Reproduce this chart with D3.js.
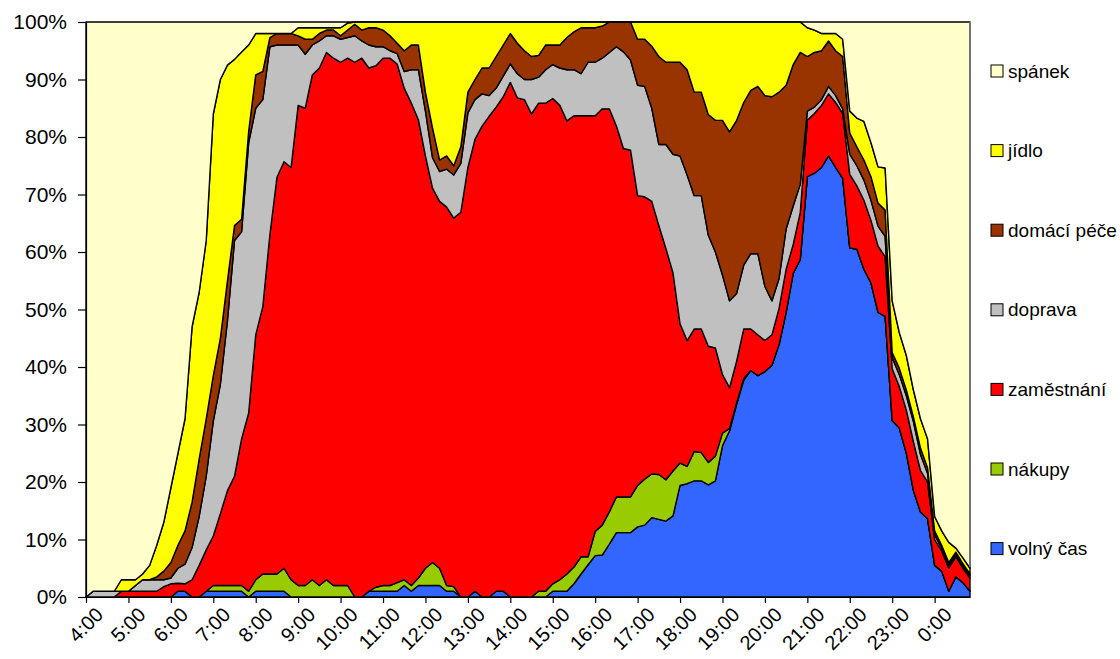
<!DOCTYPE html>
<html>
<head>
<meta charset="utf-8">
<script src="https://cdn.jsdelivr.net/npm/d3@7"></script>
<style>
  body { margin: 0; background: #fff; }
  svg { display: block; font-family: 'Liberation Sans', Arial, sans-serif; }
</style>
</head>
<body>
<div id="chart"></div>
<script>
// 10-minute categories, 4:00 to 0:50
const times = [
  '4:00', '4:10', '4:20', '4:30', '4:40', '4:50', '5:00', '5:10', '5:20', '5:30', '5:40', '5:50',
  '6:00', '6:10', '6:20', '6:30', '6:40', '6:50', '7:00', '7:10', '7:20', '7:30', '7:40', '7:50',
  '8:00', '8:10', '8:20', '8:30', '8:40', '8:50', '9:00', '9:10', '9:20', '9:30', '9:40', '9:50',
  '10:00', '10:10', '10:20', '10:30', '10:40', '10:50', '11:00', '11:10', '11:20', '11:30', '11:40', '11:50',
  '12:00', '12:10', '12:20', '12:30', '12:40', '12:50', '13:00', '13:10', '13:20', '13:30', '13:40', '13:50',
  '14:00', '14:10', '14:20', '14:30', '14:40', '14:50', '15:00', '15:10', '15:20', '15:30', '15:40', '15:50',
  '16:00', '16:10', '16:20', '16:30', '16:40', '16:50', '17:00', '17:10', '17:20', '17:30', '17:40', '17:50',
  '18:00', '18:10', '18:20', '18:30', '18:40', '18:50', '19:00', '19:10', '19:20', '19:30', '19:40', '19:50',
  '20:00', '20:10', '20:20', '20:30', '20:40', '20:50', '21:00', '21:10', '21:20', '21:30', '21:40', '21:50',
  '22:00', '22:10', '22:20', '22:30', '22:40', '22:50', '23:00', '23:10', '23:20', '23:30', '23:40', '23:50',
  '0:00', '0:10', '0:20', '0:30', '0:40', '0:50'
]

const hourLabels = ['4:00', '5:00', '6:00', '7:00', '8:00', '9:00', '10:00', '11:00', '12:00', '13:00', '14:00',
  '15:00', '16:00', '17:00', '18:00', '19:00', '20:00', '21:00', '22:00', '23:00', '0:00']

const yTicks = [0, 0.1, 0.2, 0.3, 0.4, 0.5, 0.6, 0.7, 0.8, 0.9, 1]

// stacking order, bottom to top
const seriesNames = ['volný čas', 'nákupy', 'zaměstnání', 'doprava', 'domácí péče', 'jídlo', 'spánek']

const volnyCas = [
  0, 0, 0, 0, 0, 0, 0, 0, 0, 0,
  0, 0, 0, 1, 1, 0, 0, 1, 1, 1,
  1, 1, 1, 0, 1, 1, 1, 1, 1, 0,
  0, 0, 0, 0, 0, 0, 0, 0, 0, 0,
  1, 1, 1, 1, 1, 2, 1, 2, 2, 2,
  2, 1, 1, 0, 0, 1, 0, 0, 1, 1,
  0, 0, 0, 0, 0, 0, 1, 1, 1, 2.3,
  4, 5.6, 7.2, 7.3, 9.2, 11.2, 11.2, 11.2, 12.2, 12.5,
  13.8, 13.5, 13.2, 14.1, 19.4, 19.7, 20.2, 20.2, 19.5, 20.2,
  26.3, 28.9, 33.5, 37.7, 39.4, 38.5, 39.2, 40.3, 43.9, 49.5,
  56.3, 58.7, 73.1, 73.7, 74.7, 76.7, 74.7, 72.8, 60.7, 60.5,
  57, 54.6, 49.5, 48.8, 30.7, 29.4, 25, 18.5, 14.8, 13.6,
  5.5, 4.5, 1, 3.5, 2.5, 1
]

const nakupy = [
  0, 0, 0, 0, 0, 0, 0, 0, 0, 0,
  0, 0, 0, 0, 0, 0, 0, 0, 1, 1,
  1, 1, 1, 1, 2, 3, 3, 3, 4, 3,
  2, 2, 3, 2, 3, 2, 2, 2, 0, 0,
  0, 0.7, 1, 1, 1.5, 1, 1, 1.3, 3, 4,
  3, 1, 0.8, 0, 0, 0, 0, 0, 0, 0,
  0, 0, 0, 0, 1, 1, 1.3, 2, 3, 2.9,
  3, 1.4, 4.2, 5.2, 5.6, 6.2, 6.2, 6.2, 7.2, 8,
  7.6, 7.8, 7.2, 7.8, 3.9, 3, 5.1, 4.9, 3.9, 4.3,
  2.2, 0.4, 0.3, 0.3, 0, 0, 0, 0, 0, 0,
  0, 0, 0, 0, 0, 0, 0, 0, 0, 0,
  0, 0, 0, 0, 0, 0, 0, 0, 0, 0,
  0, 0, 0, 0, 0, 0
]

const zamestnani = [
  0, 0, 0, 0, 0, 1, 1, 1, 1, 1,
  1, 1.8, 2.3, 1.4, 1.3, 3, 5.5, 7.2, 8.6, 12.5,
  16.5, 19, 25.5, 31, 42.6, 46.5, 59, 69, 70.7, 71.7,
  83.5, 83, 87.8, 90, 91.7, 91.7, 91, 91.7, 93, 93.7,
  91, 90.7, 91.7, 91.7, 90.2, 85.5, 83.9, 79.7, 71.7, 65.1,
  63.8, 65.8, 64.1, 66.9, 74.7, 78.6, 81.9, 83.6, 84.2, 86,
  89.5, 86.8, 86.5, 84, 84.9, 84.9, 84.4, 82.5, 78.8, 78.5,
  76.7, 76.7, 72.3, 72.4, 70.1, 64.5, 60.6, 60.3, 50.4, 49.1,
  47.4, 43.3, 40.2, 34.5, 24.2, 21.9, 21.3, 21.5, 20.2, 18.8,
  10.2, 7.1, 7.2, 8.6, 7.2, 7.1, 5.4, 5.3, 6.3, 7.5,
  5, 8.2, 9.8, 10.4, 10.8, 10.8, 11.3, 11.3, 12.8, 11,
  12, 10.9, 11.5, 10.4, 9, 7.2, 7.5, 8.5, 7.2, 6.4,
  4.5, 3.5, 4, 3.5, 2.5, 2.3
]

const doprava = [
  0, 1, 1, 1, 1, 0, 0, 1, 2, 2,
  2, 1.2, 1, 2.6, 3.4, 5.6, 8.5, 12.8, 20, 22.5,
  29.5, 41, 36, 47, 39.4, 36, 32.7, 23, 20.3, 21.3,
  10.5, 9.4, 5.2, 4.7, 2.9, 3.9, 4, 3.6, 4.6, 3,
  4, 3.3, 2, 1.3, 1.8, 2.9, 5.8, 8.7, 7.8, 5.3,
  5.2, 6.6, 7.5, 8.5, 9.5, 6.9, 5.6, 3.6, 3.3, 3.6,
  3.2, 4.2, 3.5, 6, 4.5, 5.8, 5.9, 6.5, 8.9, 8,
  7.3, 9.3, 9.3, 8.8, 9.8, 13.8, 16.8, 15.7, 19.2, 19.2,
  16.2, 14.1, 18.1, 20.6, 29.2, 28.8, 23.2, 23.2, 19.3, 16.7,
  17.3, 15.1, 11.8, 11.1, 13.1, 14.1, 9.4, 5.9, 5.2, 7,
  6.7, 4.9, 1.6, 1.1, 1, 1.3, 1.2, 0.8, 3.5, 3.5,
  3.5, 3.5, 3.5, 3.5, 1.9, 2.1, 2.5, 3.5, 2.8, 1.5,
  0.8, 0.5, 0.5, 0.4, 0.4, 0.4
]

const domaciPece = [
  0, 0, 0, 0, 0, 0, 0, 0, 0, 0,
  0.5, 1.5, 2.7, 4, 5.8, 7.9, 10, 10, 7.9, 8,
  7, 2.6, 2.2, 2, 5.8, 4.9, 1.6, 2, 2, 2,
  1.6, 2.6, 1, 1.3, 1, 1, 0.6, 1.3, 2, 1.9,
  3, 3.3, 2.9, 2.6, 1.8, 3.6, 4.3, 4.3, 3.3, 5.2,
  2, 2.3, 1.6, 2.9, 3.6, 3.5, 4.5, 4.8, 5.5, 5.4,
  5.3, 5.3, 5, 4, 3.8, 4.3, 3.4, 4, 5.6, 6.6,
  8, 6, 6, 5.6, 5.3, 4.3, 5.2, 6.6, 8, 8.2,
  10.8, 15.3, 14.3, 16, 16.3, 18.3, 18, 18, 21, 22.9,
  26.9, 29.4, 30.1, 28.3, 28.4, 29.1, 33.2, 35.5, 32.4, 25,
  24.6, 22.9, 9.5, 9.5, 8.5, 7.9, 7.8, 9.1, 3.7, 3.3,
  3.5, 4.1, 4, 4.6, 0.9, 1.1, 1, 0.8, 1.1, 1,
  0.7, 0.5, 0.5, 0.4, 0.4, 0.3
]

const jidlo = [
  0, 0, 0, 0, 0, 2, 2, 1, 1, 2.5,
  5.5, 8.5, 13, 16, 19.5, 30.5, 29, 31, 45.5, 45,
  37.5, 28.9, 29.1, 15, 7.2, 6.6, 0.7, 0, 0, 0,
  1.4, 2, 2, 1, 0.4, 0.4, 1.4, 1.2, 0.4, 1.4,
  1, 1, 1.4, 2.4, 3.7, 5, 4, 4, 12.2, 18.4,
  24, 23.3, 25, 21.7, 12.2, 10, 8, 8, 6, 4,
  2, 3.7, 5, 6, 5.8, 4, 4, 4, 2.7, 1.7,
  1, 1, 1, 0.7, 0, 0, 0, 0, 3, 3,
  4.2, 6, 7, 7, 7, 8.3, 12.2, 12.2, 16.1, 17.1,
  17.1, 19.1, 17.1, 14, 11.9, 11.2, 12.8, 13, 12.2, 11,
  7.4, 5.3, 5, 3.9, 3, 1.3, 3, 3, 3.8, 5,
  6.7, 5.9, 6.3, 7.3, 9, 6.2, 6, 4.7, 5.1, 5,
  2.5, 2.5, 3.5, 0.7, 1, 1
]

const spanek = [
  100, 99, 99, 99, 99, 97, 97, 97, 96, 94.5,
  91, 87, 81, 75, 69, 53, 47, 38, 16, 10,
  7.5, 6.5, 5.2, 4, 2, 2, 2, 2, 2, 2,
  1, 1, 1, 1, 1, 1, 1, 0.2, 0, 0,
  0, 0, 0, 0, 0, 0, 0, 0, 0, 0,
  0, 0, 0, 0, 0, 0, 0, 0, 0, 0,
  0, 0, 0, 0, 0, 0, 0, 0, 0, 0,
  0, 0, 0, 0, 0, 0, 0, 0, 0, 0,
  0, 0, 0, 0, 0, 0, 0, 0, 0, 0,
  0, 0, 0, 0, 0, 0, 0, 0, 0, 0,
  0, 0, 1, 1.4, 2, 2, 2, 3, 15.5, 16.7,
  17.3, 21, 25.2, 25.4, 48.5, 54, 58, 64, 69, 72.5,
  86, 88.5, 90.5, 91.5, 93.2, 95
]

const seriesValues = [volnyCas, nakupy, zamestnani, doprava, domaciPece, jidlo, spanek]
const colors = ['#3366FF', '#99CC00', '#FF0000', '#C0C0C0', '#993300', '#FFFF00', '#FFFFCC']

const width = 1120
const height = 659
const plot = { left: 86, right: 970, top: 22, bottom: 597 }

const rows = times.map((t, i) => {
  const r = { time: t }
  seriesNames.forEach((name, j) => { r[name] = seriesValues[j][i] })
  return r
})

const layers = d3.stack()
  .keys(seriesNames)
  .offset(d3.stackOffsetExpand)(rows)

const x = d3.scaleLinear().domain([0, times.length - 1]).range([plot.left, plot.right])
const y = d3.scaleLinear().domain([0, 1]).range([plot.bottom, plot.top])
const color = d3.scaleOrdinal().domain(seriesNames).range(colors)

const svg = d3.select('#chart').append('svg')
  .attr('width', width)
  .attr('height', height)

svg.append('rect')
  .attr('width', width)
  .attr('height', height)
  .attr('fill', '#fff')

const area = d3.area()
  .x((d, i) => x(i))
  .y0(d => y(d[0]))
  .y1(d => y(d[1]))

svg.append('g')
  .selectAll('path')
  .data(layers)
  .enter()
  .append('path')
  .attr('d', area)
  .attr('fill', d => color(d.key))
  .attr('stroke', '#000')
  .attr('stroke-width', 1.4)
  .attr('stroke-linejoin', 'round')

// plot area right edge is grey in the original
svg.append('line')
  .attr('x1', plot.right).attr('x2', plot.right)
  .attr('y1', plot.top).attr('y2', plot.bottom - 30)
  .attr('stroke', '#808080')
  .attr('stroke-width', 1.5)

// Y axis
const yAxis = svg.append('g')
  .attr('transform', `translate(${plot.left}, 0)`)
  .call(d3.axisLeft(y).tickValues(yTicks).tickFormat(d3.format('.0%')).tickSize(8).tickPadding(11))
yAxis.selectAll('text')
  .style('font-size', '21px')
  .style('font-family', "'Liberation Sans', Arial, sans-serif")
  .attr('fill', '#000')
yAxis.selectAll('line, path').attr('stroke', '#000').attr('stroke-width', 1.2)

// X axis, one tick per hour
const hourIdx = hourLabels.map(h => times.indexOf(h))
const xAxis = svg.append('g')
  .attr('transform', `translate(0, ${plot.bottom})`)
  .call(d3.axisBottom(x).tickValues(hourIdx).tickFormat(i => times[i]).tickSize(6).tickSizeOuter(0))
xAxis.selectAll('line, path').attr('stroke', '#000').attr('stroke-width', 1.2)
xAxis.selectAll('text')
  .style('font-size', '20px')
  .style('font-family', "'Liberation Sans', Arial, sans-serif")
  .attr('fill', '#000')
  .attr('text-anchor', 'end')
  .attr('x', 0)
  .attr('y', 0)
  .attr('dy', '0.35em')
  .attr('transform', 'translate(13, 14) rotate(-45)')

// Legend, top to bottom: reverse of stack order
const legendItems = seriesNames.slice().reverse()
const legend = svg.selectAll('.legend')
  .data(legendItems)
  .enter()
  .append('g')
  .attr('class', 'legend')
  .attr('transform', (d, i) => `translate(991, ${71 + i * 79.6})`)

legend.append('rect')
  .attr('x', 0)
  .attr('y', -6)
  .attr('width', 12)
  .attr('height', 12)
  .attr('fill', d => color(d))
  .attr('stroke', '#000')
  .attr('stroke-width', 1)

legend.append('text')
  .attr('x', 17)
  .attr('y', 0)
  .attr('dy', '0.35em')
  .style('font-size', '19px')
  .text(d => d)
</script>
</body>
</html>
